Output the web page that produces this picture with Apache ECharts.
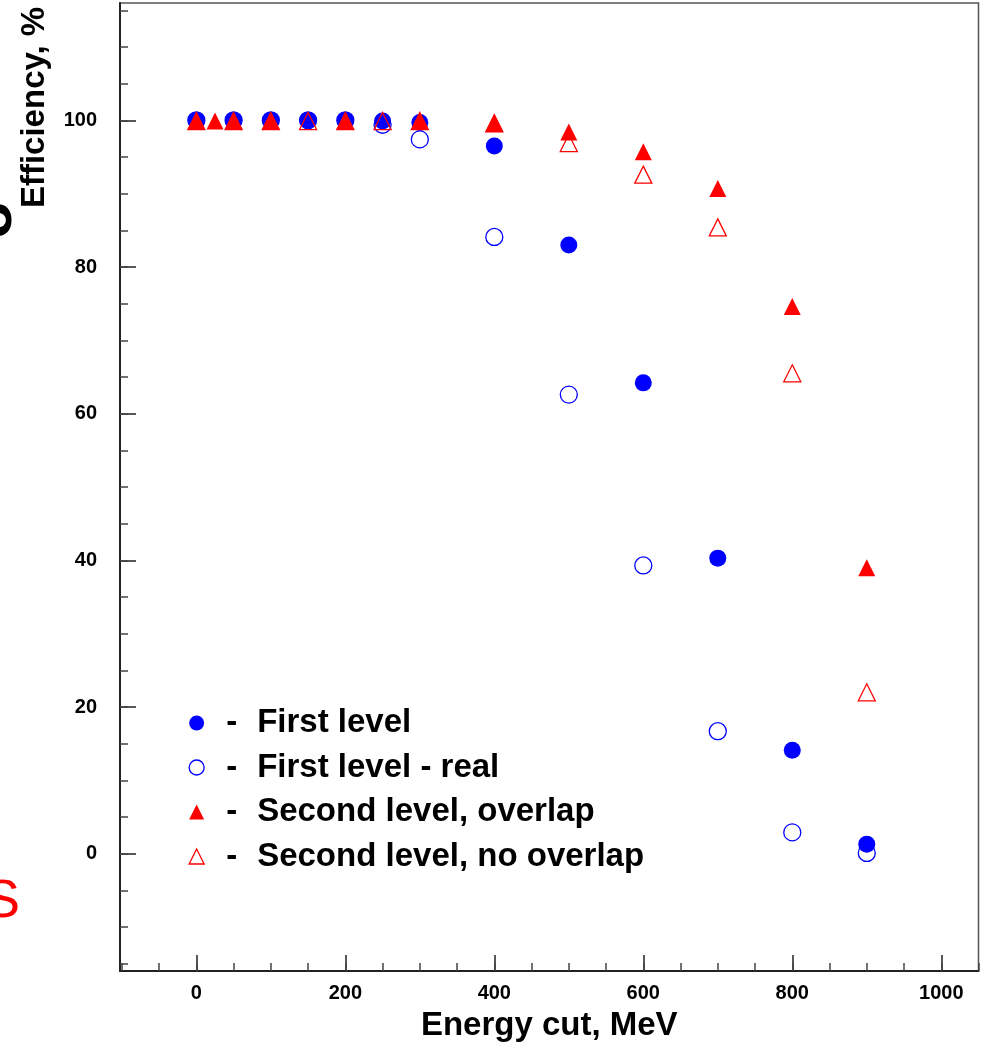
<!DOCTYPE html>
<html>
<head>
<meta charset="utf-8" />
<script src="https://cdn.jsdelivr.net/npm/echarts@6/dist/echarts.min.js"></script>
<style>
  html, body { margin: 0; padding: 0; background: #fff; }
  #chart { width: 982px; height: 1047px; }
</style>
</head>
<body>
<div id="chart"></div>
<script>
// energy cut, MeV
const firstX = [0, 50, 100, 150, 200, 250, 300, 400, 500, 600, 700, 800, 900];
const firstLevel = [100, 100, 100, 100, 100, 99.9, 99.7, 96.5, 83.0, 64.2, 40.3, 14.1, 1.3];
const firstReal = [100, 100, 100, 100, 100, 99.4, 97.4, 84.1, 62.6, 39.3, 16.7, 2.9, 0.1];

const overlapX = [0, 25, 50, 100, 200, 300, 400, 500, 600, 700, 800, 900];
const overlap = [99.9, 99.9, 99.9, 99.9, 99.9, 99.9, 99.7, 98.4, 95.7, 90.7, 74.6, 39.0];

const noOverlapX = [0, 50, 100, 150, 200, 250, 300, 400, 500, 600, 700, 800, 900];
const noOverlap = [99.9, 99.9, 99.9, 99.9, 99.9, 99.9, 99.9, 99.6, 96.9, 92.6, 85.4, 65.5, 22.0];

const xMajor = [0, 200, 400, 600, 800, 1000];
const xMinor = [-100, -50, 0, 50, 100, 150, 200, 250, 300, 350, 400, 450, 500, 550, 600, 650, 700, 750, 800, 850, 900, 950, 1000, 1050];
const yMajor = [0, 20, 40, 60, 80, 100];
const yMinor = [-15, -10, -5, 0, 5, 10, 15, 20, 25, 30, 35, 40, 45, 50, 55, 60, 65, 70, 75, 80, 85, 90, 95, 100, 105, 110, 115];

const names = [
  "First level",
  "First level - real",
  "Second level, overlap",
  "Second level, no overlap",
];

const pairs = (xs, ys) => xs.map((x, i) => [x, ys[i]]);

const FONT = "Liberation Sans, Arial, Helvetica, sans-serif";
const BLUE = "#0000ff";
const RED = "#ff0000";

const xRange = { min: -102.5, max: 1050 };
const yRange = { min: -16, max: 116 };

const chart = echarts.init(document.getElementById("chart"));

const option = {
  animation: false,
  backgroundColor: "#fff",
  grid: {
    left: 120,
    top: 3,
    right: 3.5,
    bottom: 75.5,
    show: true,
    borderColor: "#555",
    borderWidth: 1.5,
    backgroundColor: "#fff",
  },
  legend: {
    orient: "vertical",
    left: 188.5,
    top: 705,
    padding: 0,
    itemWidth: 15,
    itemHeight: 15,
    itemGap: 8.5,
    selectedMode: false,
    formatter: (name) => "{g| }{d|-}{t|" + name + "}",
    textStyle: {
      color: "#000",
      fontFamily: FONT,
      fontWeight: "bold",
      fontSize: 33,
      lineHeight: 36,
      rich: {
        g: { width: 17, fontSize: 33, fontFamily: FONT },
        d: { width: 31, fontSize: 33, fontWeight: "bold", fontFamily: FONT, color: "#000" },
        t: { fontSize: 33, fontWeight: "bold", fontFamily: FONT, color: "#000" },
      },
    },
    data: [
      { name: names[0], icon: "circle", itemStyle: { color: BLUE, borderWidth: 0, opacity: 1 } },
      { name: names[1], icon: "circle", itemStyle: { color: "rgba(0,0,0,0)", borderColor: BLUE, borderWidth: 1.3, opacity: 1 } },
      { name: names[2], icon: "triangle", itemStyle: { color: RED, borderWidth: 0, opacity: 1 } },
      { name: names[3], icon: "triangle", itemStyle: { color: "rgba(0,0,0,0)", borderColor: RED, borderWidth: 1.3, opacity: 1 } },
    ],
  },
  xAxis: [
    {
      type: "value",
      min: xRange.min,
      max: xRange.max,
      name: "Energy cut, MeV",
      nameLocation: "middle",
      nameGap: 38,
      nameTextStyle: { color: "#000", fontFamily: FONT, fontWeight: "bold", fontSize: 33 },
      axisLine: { show: true, onZero: false, lineStyle: { color: "#222", width: 2 } },
      axisTick: {
        show: true,
        inside: true,
        length: 16,
        customValues: xMajor,
        lineStyle: { color: "#222", width: 1.5 },
      },
      axisLabel: {
        show: true,
        customValues: xMajor,
        formatter: (v) => String(v),
        margin: 12,
        color: "#000",
        fontFamily: FONT,
        fontWeight: "bold",
        fontSize: 20,
      },
      splitLine: { show: false },
    },
    {
      type: "value",
      min: xRange.min,
      max: xRange.max,
      position: "bottom",
      axisLine: { show: false, onZero: false },
      axisTick: {
        show: true,
        inside: true,
        length: 8,
        customValues: xMinor,
        lineStyle: { color: "#444", width: 1.5 },
      },
      axisLabel: { show: false },
      splitLine: { show: false },
    },
  ],
  yAxis: [
    {
      type: "value",
      min: yRange.min,
      max: yRange.max,
      axisLine: { show: true, onZero: false, lineStyle: { color: "#222", width: 2 } },
      axisTick: {
        show: true,
        inside: true,
        length: 16,
        customValues: yMajor,
        lineStyle: { color: "#222", width: 1.5 },
      },
      axisLabel: {
        show: true,
        customValues: yMajor,
        formatter: (v) => String(v),
        margin: 23,
        color: "#000",
        fontFamily: FONT,
        fontWeight: "bold",
        fontSize: 20,
      },
      splitLine: { show: false },
    },
    {
      type: "value",
      min: yRange.min,
      max: yRange.max,
      position: "left",
      axisLine: { show: false, onZero: false },
      axisTick: {
        show: true,
        inside: true,
        length: 8,
        customValues: yMinor,
        lineStyle: { color: "#444", width: 1.5 },
      },
      axisLabel: { show: false },
      splitLine: { show: false },
    },
  ],
  series: [
    {
      name: names[0],
      type: "scatter",
      symbol: "circle",
      symbolSize: 17,
      itemStyle: { color: BLUE, opacity: 1 },
      data: pairs(firstX, firstLevel),
    },
    {
      name: names[1],
      type: "scatter",
      symbol: "circle",
      symbolSize: 17,
      itemStyle: { color: "rgba(0,0,0,0)", borderColor: BLUE, borderWidth: 1.3, opacity: 1 },
      data: pairs(firstX, firstReal),
    },
    {
      name: names[2],
      type: "scatter",
      symbol: "triangle",
      symbolSize: 17,
      itemStyle: { color: RED, opacity: 1 },
      data: pairs(overlapX, overlap),
    },
    {
      name: names[3],
      type: "scatter",
      symbol: "triangle",
      symbolSize: 17,
      itemStyle: { color: "rgba(0,0,0,0)", borderColor: RED, borderWidth: 1.3, opacity: 1 },
      data: pairs(noOverlapX, noOverlap),
    },
  ],
  graphic: [
    // y title, rotated, partly cut by the page edge
    {
      type: "text",
      x: 35,
      y: 107.5,
      rotation: Math.PI / 2,
      style: {
        text: "Efficiency, %",
        fill: "#000",
        font: "bold 33px " + FONT,
        align: "center",
        verticalAlign: "middle",
      },
    },
    {
      type: "text",
      x: -6,
      y: 218,
      rotation: Math.PI / 2,
      style: {
        text: "σ",
        fill: "#000",
        font: "bold 60px " + FONT,
        align: "center",
        verticalAlign: "middle",
      },
    },
    {
      type: "text",
      x: 20,
      y: 902.5,
      style: {
        text: "S",
        fill: RED,
        font: "54px " + FONT,
        align: "right",
        verticalAlign: "middle",
      },
    },
  ],
};

chart.setOption(option);
</script>
</body>
</html>
